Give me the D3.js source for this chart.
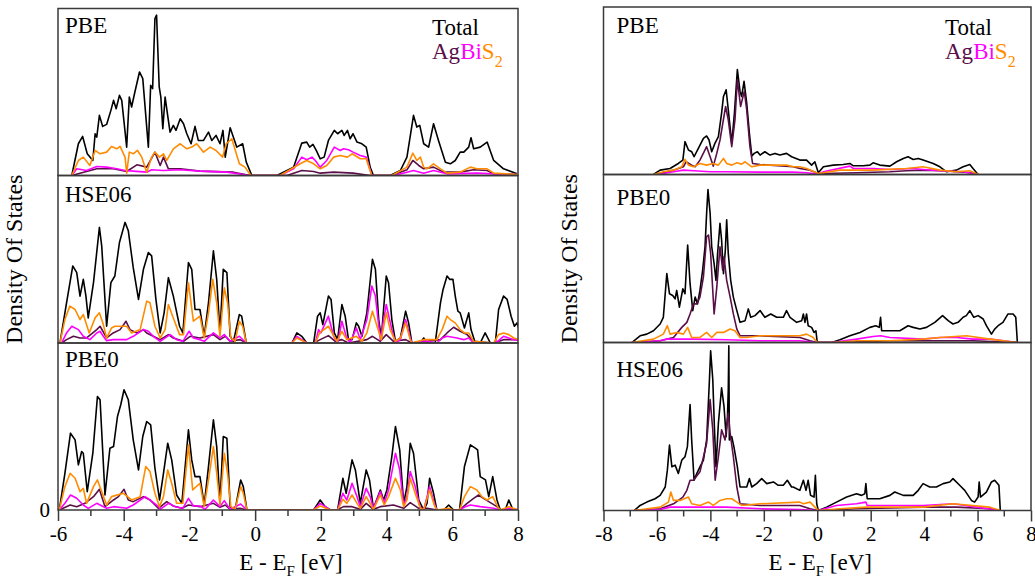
<!DOCTYPE html>
<html><head><meta charset="utf-8">
<script src="https://cdn.jsdelivr.net/npm/d3@7"></script>
<style>body{margin:0;background:#fff}svg{display:block}text{font-family:"Liberation Serif","Times New Roman",serif}</style>
</head><body><svg id="c" width="1035" height="577"></svg>
<script>
// ---------- data: [energy (eV), DOS (arb. units, % of panel height)] ----------
const lPBE_tot=[[-5.58,0],[-5.38,19],[-5.25,23.4],[-5.11,13],[-4.94,9],[-4.87,25],[-4.82,23],[-4.74,36],[-4.64,29.4],[-4.52,30.6],[-4.39,39],[-4.31,45],[-4.23,40],[-4.13,48],[-4.06,45],[-3.99,32],[-3.91,17],[-3.83,47],[-3.76,41],[-3.66,50],[-3.52,62],[-3.42,58],[-3.25,17],[-3.18,54],[-3.12,52],[-3.05,94],[-3.0,96],[-2.92,53],[-2.87,47],[-2.81,28],[-2.74,47],[-2.67,37],[-2.59,26],[-2.49,30],[-2.41,27],[-2.28,34],[-2.18,31],[-2.08,25],[-1.95,19],[-1.83,29.4],[-1.73,21],[-1.57,21],[-1.42,26],[-1.32,21],[-1.19,24],[-1.07,19],[-0.98,27],[-0.91,11],[-0.76,28.6],[-0.56,17],[-0.38,19],[-0.27,8],[-0.1,0],[0.66,0],[1.17,5],[1.42,19.4],[1.57,20],[1.66,17],[1.76,18.6],[1.86,15],[1.98,10],[2.1,11],[2.23,21],[2.41,27],[2.51,25],[2.64,27],[2.71,24],[2.81,27],[2.89,22],[2.98,25],[3.1,20],[3.25,19],[3.38,17],[3.5,5],[3.6,0],[4.11,0],[4.42,3],[4.62,11],[4.82,36],[4.92,29],[5.01,30],[5.13,19],[5.28,17],[5.43,31],[5.58,21],[5.79,8],[5.94,7],[6.09,9],[6.24,14],[6.35,14],[6.5,17],[6.57,22.6],[6.65,16],[6.85,17],[7.06,20],[7.26,9],[7.56,4],[7.97,1]];
const lPBE_s=[[-5.58,0],[-5.38,9],[-5.23,11],[-5.03,6],[-4.87,15],[-4.72,13],[-4.52,14],[-4.37,17.4],[-4.21,16],[-4.11,17.4],[-3.96,11],[-3.91,1.4],[-3.83,14],[-3.71,13],[-3.58,15],[-3.45,11],[-3.3,2],[-3.15,11],[-3.05,14],[-2.91,11],[-2.79,13],[-2.69,9],[-2.49,16],[-2.28,19],[-2.08,16],[-1.93,17],[-1.78,19],[-1.57,14],[-1.37,17],[-1.19,15],[-0.99,11],[-0.88,19],[-0.71,22],[-0.48,7],[-0.31,5],[-0.13,0],[0.76,0],[1.37,7],[1.57,9],[1.78,7],[1.98,4],[2.18,6],[2.39,11],[2.59,12],[2.81,11],[2.95,13],[3.2,10],[3.38,10],[3.55,0],[4.16,0],[4.62,5],[4.8,13.4],[4.92,9],[5.03,11],[5.13,5],[5.23,4],[5.43,7],[5.64,4],[5.84,1.4],[6.24,2],[6.55,5],[6.75,4],[7.06,4],[7.26,1.4],[7.97,0.6]];
const lPBE_bi=[[-5.58,0],[-5.43,4],[-5.13,3],[-4.82,5.4],[-4.52,5],[-4.21,4],[-3.96,3],[-3.71,2.6],[-3.3,2],[-3.15,3.4],[-2.79,3],[-2.28,3.4],[-1.68,2.6],[-0.86,2],[-0.15,0],[0.76,0],[1.17,4],[1.42,11],[1.57,9.4],[1.73,11],[1.83,9],[1.98,5],[2.18,9],[2.41,17],[2.59,15],[2.69,16],[2.84,15.4],[2.98,14],[3.2,12],[3.38,11],[3.55,0],[4.21,0],[4.62,2],[4.82,3],[5.13,1.4],[5.43,3],[5.84,1],[6.75,1.4],[7.26,1],[7.97,0.6]];
const lPBE_ag=[[-5.58,0],[-5.33,1.4],[-4.82,4],[-4.31,4],[-3.91,2.4],[-3.6,6.4],[-3.3,5],[-3.05,14],[-2.89,6],[-2.79,11],[-2.64,4],[-2.28,4],[-1.68,2.6],[-0.66,2],[-0.15,0],[0.97,0],[1.42,3],[1.78,2.4],[1.98,1.4],[2.39,2],[2.98,1.4],[3.5,0],[4.16,0],[4.62,3.4],[4.8,9],[4.98,6],[5.13,4],[5.43,5],[5.74,2],[6.24,2],[6.65,3.4],[7.06,3],[7.26,1],[7.97,0.6]];

const lHSE_tot=[[-5.94,0],[-5.74,24],[-5.55,46],[-5.43,42],[-5.33,28],[-5.23,38],[-5.15,28],[-5.08,15],[-4.92,36],[-4.74,69],[-4.67,58],[-4.52,10],[-4.39,36],[-4.27,40],[-4.13,60],[-3.96,72],[-3.86,67],[-3.71,45],[-3.55,26],[-3.4,44],[-3.25,54],[-3.15,52],[-3.02,26],[-2.89,6],[-2.77,18],[-2.64,39],[-2.49,28],[-2.3,10],[-2.2,6],[-2.03,48],[-1.93,44],[-1.83,20],[-1.68,20],[-1.55,4],[-1.42,24],[-1.27,55],[-1.17,38],[-1.07,6],[-0.97,44],[-0.86,42],[-0.76,4],[-0.66,1],[-0.48,17],[-0.41,16],[-0.27,0],[1.12,0],[1.27,6],[1.42,4],[1.57,0],[1.78,0],[1.9,16],[1.98,18],[2.06,11],[2.23,28],[2.31,26],[2.41,6],[2.51,2],[2.64,23],[2.74,16],[2.84,2],[2.95,2],[3.08,12],[3.15,10],[3.25,4],[3.4,18],[3.57,50],[3.66,44],[3.76,14],[3.84,3],[3.99,40],[4.06,36],[4.16,14],[4.27,1],[4.42,3],[4.58,19],[4.67,12],[4.77,0],[5.03,0],[5.13,3],[5.23,0],[5.48,0],[5.64,24],[5.72,32],[5.84,40],[5.92,38],[6.02,38],[6.09,28],[6.17,19],[6.24,18],[6.37,9],[6.5,18],[6.57,8],[6.7,0],[6.85,0],[7.0,6],[7.16,0],[7.31,0],[7.41,20],[7.56,28],[7.67,26],[7.79,16],[7.89,10],[7.97,12],[8.05,7]];
const lHSE_s=[[-5.94,0],[-5.79,14],[-5.64,22],[-5.48,20],[-5.33,14],[-5.23,17],[-5.05,6],[-4.87,15],[-4.74,18],[-4.62,11],[-4.52,3],[-4.37,9],[-4.27,10],[-3.91,10],[-3.76,6],[-3.5,8],[-3.3,25],[-3.2,24],[-3.05,10],[-2.89,3],[-2.74,8],[-2.64,23],[-2.51,16],[-2.3,5],[-2.18,5],[-2.03,36],[-1.88,13],[-1.68,16],[-1.55,3],[-1.42,18],[-1.29,38],[-1.17,24],[-1.07,4],[-0.94,33],[-0.84,24],[-0.74,3],[-0.61,1],[-0.48,13],[-0.38,10],[-0.27,0],[1.12,0],[1.27,3],[1.57,0],[1.83,0],[1.96,6],[2.23,10],[2.34,6],[2.49,1],[2.64,7],[2.79,2],[3.08,4],[3.25,1],[3.4,6],[3.57,19],[3.71,10],[3.84,2],[3.99,18],[4.11,8],[4.27,1],[4.42,3],[4.58,12],[4.72,2],[4.77,0],[5.13,2],[5.53,2],[5.69,8],[5.84,16],[5.94,14],[6.09,12],[6.24,8],[6.37,6],[6.5,6],[6.65,1],[7.26,0],[7.41,5],[7.56,6],[7.72,5],[7.87,3],[8.02,2]];
const lHSE_bi=[[-5.89,0],[-5.74,6],[-5.58,10],[-5.38,8],[-5.23,4],[-5.03,2],[-4.82,6],[-4.72,7],[-4.62,4],[-4.52,1.4],[-4.32,2],[-4.11,2],[-3.91,2],[-3.71,4],[-3.4,8],[-3.25,7],[-3.1,4],[-2.89,1],[-2.59,5],[-2.39,2],[-2.2,1],[-2.01,7],[-1.88,3],[-1.68,2],[-1.55,1],[-1.27,6],[-1.07,3],[-0.94,5],[-0.76,1],[-0.48,4],[-0.27,0],[1.12,0],[1.27,4],[1.57,0],[1.83,0],[1.93,8],[2.0,6],[2.23,16],[2.39,4],[2.51,0],[2.64,13],[2.77,4],[2.89,0],[3.08,9],[3.2,2],[3.4,14],[3.55,34],[3.66,28],[3.81,2],[3.99,23],[4.16,8],[4.27,0],[4.42,2],[4.58,14],[4.72,3],[4.77,0],[5.13,1.4],[5.53,0],[5.69,3],[5.84,4],[6.14,3],[6.35,2],[6.5,3],[6.65,0],[7.26,0],[7.41,1.4],[7.56,4],[7.87,2],[8.02,1.4]];
const lHSE_ag=[[-5.89,0],[-5.74,2],[-5.53,4],[-5.33,3],[-5.13,3],[-4.82,8],[-4.72,10],[-4.52,3],[-4.32,6],[-4.11,8],[-3.93,13],[-3.81,8],[-3.6,6],[-3.4,8],[-3.3,6],[-3.1,4],[-2.89,2],[-2.64,5],[-2.49,3],[-2.18,1],[-1.98,4],[-1.68,3],[-1.27,5],[-1.07,2],[-0.91,4],[-0.76,1],[-0.46,2],[-0.27,0],[1.78,0],[1.98,2],[2.23,4.4],[2.44,1],[2.64,2],[2.84,0],[3.4,2],[3.57,4],[3.81,1],[3.99,5],[4.21,1],[4.58,2],[4.77,0],[5.64,2],[5.84,6],[6.04,9.4],[6.24,7],[6.45,5],[6.65,1],[7.26,0],[7.56,2],[7.87,2],[8.02,2]];

const lPBE0_tot=[[-5.96,0],[-5.79,22],[-5.62,46],[-5.48,42],[-5.38,27],[-5.28,35],[-5.23,34],[-5.11,11],[-4.94,34],[-4.8,68],[-4.72,66],[-4.57,9],[-4.42,37],[-4.31,38],[-4.19,56],[-4.09,63],[-3.99,72],[-3.86,66],[-3.71,42],[-3.55,24],[-3.42,44],[-3.3,53],[-3.18,51],[-3.05,25],[-2.91,6],[-2.79,22],[-2.66,40],[-2.54,30],[-2.39,9],[-2.23,4],[-2.03,48],[-1.93,30],[-1.83,20],[-1.68,20],[-1.55,3],[-1.42,26],[-1.27,54],[-1.17,38],[-1.07,4],[-0.97,44],[-0.86,43],[-0.76,2],[-0.61,0],[-0.44,18],[-0.36,14],[-0.25,0],[1.78,0],[1.98,6],[2.13,2],[2.29,0],[2.51,0],[2.67,19],[2.77,10],[2.95,30],[3.05,24],[3.2,4],[3.38,24],[3.48,18],[3.6,1],[3.81,12],[3.91,6],[4.01,12],[4.16,32],[4.27,50],[4.4,36],[4.52,4],[4.62,14],[4.72,40],[4.82,34],[4.98,6],[5.13,0],[5.23,4],[5.31,19],[5.43,10],[5.53,0],[5.74,0],[5.89,3],[6.04,0],[6.22,0],[6.37,26],[6.55,39],[6.7,37],[6.77,36],[6.85,20],[7.01,18],[7.11,8],[7.23,20],[7.36,6],[7.46,0],[7.61,0],[7.72,6],[7.85,0],[8.02,0]];
const lPBE0_s=[[-5.96,0],[-5.79,14],[-5.63,22],[-5.48,19],[-5.33,11],[-5.23,13],[-5.13,4],[-4.92,14],[-4.8,18],[-4.67,11],[-4.52,3],[-4.37,8],[-4.01,10],[-3.76,6],[-3.5,8],[-3.33,26],[-3.2,23],[-3.05,10],[-2.91,2],[-2.79,8],[-2.66,24],[-2.54,16],[-2.39,4],[-2.2,4],[-2.03,39],[-1.9,12],[-1.68,16],[-1.55,2],[-1.42,18],[-1.27,38],[-1.17,22],[-1.07,3],[-0.94,34],[-0.84,22],[-0.74,2],[-0.61,0.4],[-0.44,14],[-0.36,10],[-0.25,0],[1.78,0],[1.98,2.4],[2.29,0],[2.51,0],[2.67,6.4],[2.79,4],[2.95,9],[3.1,4],[3.2,1],[3.38,8],[3.5,4],[3.6,0.4],[3.81,9],[3.93,3],[4.06,8],[4.27,19],[4.42,12],[4.52,2],[4.62,6],[4.72,19],[4.87,10],[5.03,1],[5.13,0],[5.31,12],[5.45,3],[5.53,0],[5.89,1],[6.04,0],[6.22,0],[6.37,8],[6.55,14],[6.75,12],[6.9,8],[7.06,6],[7.23,8],[7.38,2],[7.46,0],[7.72,2],[8.02,0]];
const lPBE0_bi=[[-5.96,0],[-5.79,4],[-5.62,9],[-5.43,7],[-5.23,3],[-5.08,1],[-4.82,4],[-4.72,3],[-4.52,1],[-4.31,2],[-3.91,1],[-3.71,3],[-3.35,8],[-3.2,6],[-2.94,2],[-2.89,0.4],[-2.64,4],[-2.44,2],[-2.2,1],[-2.03,7],[-1.88,2.4],[-1.68,2.4],[-1.52,0.4],[-1.27,6],[-1.07,2],[-0.94,5.6],[-0.76,0.4],[-0.44,3.6],[-0.25,0],[1.78,0],[1.98,4],[2.29,0],[2.51,0],[2.67,10],[2.79,6],[2.95,16],[3.1,8],[3.2,2],[3.38,13],[3.5,8],[3.6,1],[3.81,11],[3.93,4],[4.06,12],[4.27,34],[4.4,24],[4.52,3],[4.62,8],[4.72,23],[4.87,14],[5.03,1],[5.13,0],[5.31,14],[5.45,4],[5.53,0],[6.22,0],[6.4,2],[6.55,3],[6.85,2],[7.26,1],[7.46,0],[7.72,1],[8.02,0]];
const lPBE0_ag=[[-5.96,0],[-5.63,3],[-5.43,2],[-5.18,4],[-4.92,8],[-4.74,12.4],[-4.57,2],[-4.31,6],[-4.16,8],[-3.99,12.4],[-3.86,6],[-3.71,5],[-3.4,8],[-3.2,6],[-2.94,1],[-2.69,5],[-2.49,2.4],[-2.23,1],[-2.03,3],[-1.68,2],[-1.27,4],[-1.07,1.6],[-0.91,3],[-0.76,0.4],[-0.46,1],[-0.25,0],[1.78,0],[2.49,0],[2.69,2],[2.95,2],[3.2,0.4],[3.38,4],[3.6,0.4],[3.81,2],[4.21,3],[4.52,1],[4.72,4.4],[4.98,1],[5.23,1],[5.53,0],[6.22,0],[6.45,4],[6.65,7],[6.8,9],[6.95,7],[7.16,4.4],[7.36,2],[7.46,0],[8.02,0]];

const rPBE_tot=[[-6.13,0],[-5.88,2.6],[-5.51,3.6],[-5.2,6.6],[-5.03,8.6],[-4.95,19.6],[-4.82,14.6],[-4.7,13.6],[-4.61,10.6],[-4.45,15.6],[-4.26,21.6],[-4.14,23],[-4.05,20.6],[-3.95,13.6],[-3.83,18.6],[-3.7,22.6],[-3.58,36.6],[-3.51,46.6],[-3.41,50.6],[-3.33,38.6],[-3.2,18.6],[-3.1,36.6],[-2.99,62.6],[-2.89,49.6],[-2.83,46.6],[-2.74,55.6],[-2.64,42.6],[-2.54,24.6],[-2.45,11],[-2.36,12.6],[-2.24,13.6],[-2.14,11.6],[-1.96,13.6],[-1.77,11.6],[-1.58,12.6],[-1.4,11.6],[-1.15,12.6],[-0.96,10.6],[-0.65,8.6],[-0.4,8.6],[-0.21,5.6],[-0.09,7.6],[0.04,1],[0.23,4.6],[0.6,5.6],[0.97,6],[1.22,6.6],[1.35,5.2],[1.72,5.2],[1.97,5.6],[2.09,7],[2.34,5.6],[2.72,5],[2.97,7.6],[3.22,9.6],[3.4,10.6],[3.59,9],[3.78,9.6],[3.96,8.6],[4.34,6.6],[4.59,4.6],[4.84,1.6],[5.21,2.6],[5.46,4.6],[5.71,6],[5.83,3.6],[6.02,0]];
const rPBE_s=[[-6.13,0],[-5.76,1.6],[-5.38,2.6],[-5.07,4.6],[-4.95,9],[-4.82,5.6],[-4.63,4.6],[-4.39,6.6],[-4.14,5.6],[-3.89,6.6],[-3.7,5.6],[-3.51,9.6],[-3.39,6.6],[-3.2,5.6],[-3.01,7],[-2.83,6.2],[-2.7,7.6],[-2.45,4.6],[-2.14,5.6],[-1.15,5.6],[-0.9,4.6],[-0.65,4.6],[-0.4,3.6],[0.04,0.6],[0.85,2.6],[2.09,2.6],[3.34,3.6],[3.96,4.6],[4.59,2.6],[5.21,1.6],[5.71,2.2],[6.02,0]];
const rPBE_bi=[[-6.0,0],[-5.38,1.6],[-5.01,2.6],[-4.63,2.2],[-4.01,1.6],[-3.39,1.6],[-2.14,1.4],[-0.9,1.4],[-0.4,1],[0.04,0.2],[0.23,1.6],[1.22,5],[1.35,3.6],[2.09,3.6],[2.72,3],[3.59,3.6],[3.96,3],[4.59,2.2],[5.46,1.6],[6.02,0]];
const rPBE_ag=[[-6.0,0],[-5.38,2.6],[-5.01,4.6],[-4.91,7.6],[-4.7,5.6],[-4.57,4.6],[-4.39,8.6],[-4.14,16.6],[-4.01,10.6],[-3.89,5],[-3.76,12.6],[-3.64,20.6],[-3.43,40.6],[-3.33,32.6],[-3.2,16.6],[-3.08,32.6],[-2.99,56.6],[-2.87,40.6],[-2.73,49.6],[-2.64,38.6],[-2.52,16.6],[-2.42,6.6],[-2.14,6],[-0.9,4.6],[-0.65,3.6],[-0.27,2.6],[0.04,0.6],[0.23,0.6],[1.47,1],[2.72,1.6],[3.34,2.2],[3.96,2.6],[4.59,2.2],[5.83,1],[6.02,0]];

const rPBE0_tot=[[-6.94,0],[-6.63,4],[-6.38,5],[-6.13,7],[-5.88,11],[-5.76,15],[-5.63,41],[-5.53,29],[-5.41,28],[-5.32,26],[-5.26,31],[-5.16,21],[-5.03,32],[-4.95,29],[-4.85,58],[-4.76,35],[-4.66,19],[-4.57,27],[-4.48,23],[-4.39,31],[-4.29,43],[-4.2,57],[-4.14,77],[-4.09,91],[-4.01,77],[-3.95,57],[-3.86,47],[-3.79,37],[-3.73,53],[-3.64,71],[-3.58,61],[-3.51,41],[-3.44,55],[-3.39,73],[-3.33,53],[-3.24,37],[-3.14,27],[-3.01,19],[-2.89,12],[-2.7,13],[-2.58,20],[-2.49,15],[-2.33,16],[-2.14,19],[-1.96,15],[-1.74,17],[-1.52,15],[-1.27,15],[-1.15,19],[-1.02,15],[-0.77,12],[-0.58,13],[-0.52,17],[-0.46,12],[-0.4,17],[-0.34,10],[-0.21,9],[-0.12,6],[-0.05,7],[0.0,0],[0.54,0],[0.85,1.6],[1.22,4],[1.6,6],[1.97,9],[2.19,10],[2.32,9],[2.37,15],[2.41,7],[2.72,7],[3.09,7],[3.4,10],[3.59,9],[3.84,8],[4.09,9],[4.4,12],[4.69,16],[4.9,13],[5.08,11],[5.27,12],[5.46,15],[5.58,16],[5.71,19],[5.86,15],[6.02,16],[6.21,14],[6.33,10],[6.52,5],[6.64,8],[6.77,10],[6.95,12],[7.14,17],[7.33,17],[7.43,15],[7.49,0]];
const rPBE0_s=[[-6.94,0],[-6.13,2],[-5.76,5],[-5.61,10],[-5.51,5],[-5.26,6],[-5.01,5],[-4.85,9],[-4.7,3],[-4.39,3],[-4.14,6],[-3.95,3],[-3.76,6],[-3.51,6],[-3.26,8],[-3.08,7],[-2.89,3],[-2.64,3],[-2.14,4],[-0.65,4],[-0.4,5],[-0.15,3],[0.0,0],[0.54,0],[1.47,1],[2.72,1],[3.96,2],[4.59,3],[5.58,4],[6.46,2],[7.49,0]];
const rPBE0_bi=[[-6.94,0],[-5.88,1],[-5.63,2],[-4.63,2],[-3.39,1.6],[-2.14,1],[-0.65,1],[0.0,0],[0.54,0],[1.47,2],[2.09,3.6],[2.37,4],[2.72,3],[3.96,2],[4.59,3],[5.21,3],[5.83,2],[6.46,2],[7.49,0]];
const rPBE0_ag=[[-6.94,0],[-5.88,1],[-5.38,3],[-5.07,9],[-4.88,12],[-4.76,17],[-4.63,23],[-4.51,23],[-4.39,27],[-4.26,39],[-4.14,63],[-4.07,64],[-3.99,53],[-3.86,17],[-3.76,33],[-3.64,57],[-3.54,43],[-3.49,51],[-3.39,37],[-3.26,27],[-3.14,17],[-3.01,8],[-2.89,4],[-2.14,4],[-0.65,3],[-0.27,1],[0.0,0],[0.85,0],[2.72,1],[4.59,1],[5.83,1],[7.49,0]];

const rHSE_tot=[[-6.85,0],[-6.63,3],[-6.38,5],[-6.07,7],[-5.88,9],[-5.69,14],[-5.61,24],[-5.53,39],[-5.44,26],[-5.32,27],[-5.2,22],[-5.07,30],[-4.95,32],[-4.86,38],[-4.76,63],[-4.7,42],[-4.61,18],[-4.51,22],[-4.39,26],[-4.26,30],[-4.14,42],[-4.04,76],[-3.99,95],[-3.91,78],[-3.85,50],[-3.79,26],[-3.7,52],[-3.58,73],[-3.49,62],[-3.41,44],[-3.36,56],[-3.33,72],[-3.31,98],[-3.29,42],[-3.2,44],[-3.12,38],[-2.99,26],[-2.89,14],[-2.64,14],[-2.54,19],[-2.45,14],[-2.27,16],[-2.08,19],[-1.89,16],[-1.64,17],[-1.46,15],[-1.27,15],[-1.12,18],[-0.96,14],[-0.9,14],[-0.65,12],[-0.52,18],[-0.42,12],[-0.34,18],[-0.25,9],[-0.12,8],[-0.07,21],[-0.02,4],[0.04,0],[0.35,2],[0.72,5],[1.1,8],[1.47,10],[1.66,9],[1.78,10],[1.82,16],[1.87,7],[2.34,7],[2.72,9],[2.9,11],[3.22,9],[3.59,9],[3.78,12],[3.96,16],[4.21,14],[4.46,14],[4.71,16],[4.96,17],[5.08,19],[5.33,15],[5.52,12],[5.77,6],[5.89,5],[6.02,8],[6.06,17],[6.11,8],[6.33,11],[6.52,17],[6.64,18],[6.8,15],[6.85,0]];
const rHSE_s=[[-6.85,0],[-5.88,2],[-5.57,5],[-5.48,11],[-5.38,6],[-5.13,6],[-4.82,8],[-4.7,4],[-4.39,3],[-4.07,5],[-3.89,3],[-3.64,6],[-3.39,7],[-3.2,7],[-3.01,5],[-2.83,3],[-2.14,4],[-0.65,5],[-0.52,4],[-0.27,5],[-0.02,1],[0.04,0],[0.85,1],[1.84,2],[3.96,2],[5.08,4],[6.46,2],[6.85,0]];
const rHSE_bi=[[-6.85,0],[-5.88,0.6],[-5.51,2],[-4.63,2],[-3.39,2],[-2.14,1],[-0.65,0.6],[0.04,0],[0.72,3],[1.47,4],[1.82,5],[1.87,3],[2.72,3],[3.96,3],[5.08,4],[5.96,2],[6.85,0]];
const rHSE_ag=[[-6.85,0],[-5.88,1],[-5.38,4],[-5.03,8],[-4.88,12],[-4.76,18],[-4.63,18],[-4.39,23],[-4.14,40],[-4.01,66],[-3.91,48],[-3.82,18],[-3.7,32],[-3.58,48],[-3.45,42],[-3.33,58],[-3.26,46],[-3.14,32],[-3.01,14],[-2.89,4],[-2.14,3],[-0.65,3],[-0.27,1],[0.04,0],[1.47,1],[3.96,2],[5.21,2],[6.46,1],[6.85,0]];

// axis / labels
const leftTicks=[-6,-4,-2,0,2,4,6,8];
const rightTicks=[-8,-6,-4,-2,0,2,4,6,8];
const leftMethods=["PBE","HSE06","PBE0"];
const rightMethods=["PBE","PBE0","HSE06"];
const speciesNames=["Total","Ag","Bi","S"];
const colors={Total:"#000000",Ag:"#5a0f48",Bi:"#ff00ff",S:"#ff8c00"};

// ---------- layout ----------
const panels=[
 {x0:58,x1:518,dom:[-6,8],ticks:leftTicks,legendX:432,zeroLabel:true,
  subs:[{label:leftMethods[0],top:8.5,bottom:175.5,ly:33,data:[lPBE_tot,lPBE_ag,lPBE_bi,lPBE_s]},
        {label:leftMethods[1],top:175.5,bottom:343,ly:201.5,data:[lHSE_tot,lHSE_ag,lHSE_bi,lHSE_s]},
        {label:leftMethods[2],top:343,bottom:510,ly:366.5,data:[lPBE0_tot,lPBE0_ag,lPBE0_bi,lPBE0_s]}]},
 {x0:603.5,x1:1031,dom:[-8,8],ticks:rightTicks,legendX:945,zeroLabel:false,
  subs:[{label:rightMethods[0],top:7,bottom:174.5,ly:33,data:[rPBE_tot,rPBE_ag,rPBE_bi,rPBE_s]},
        {label:rightMethods[1],top:174.5,bottom:342.5,ly:205,data:[rPBE0_tot,rPBE0_ag,rPBE0_bi,rPBE0_s]},
        {label:rightMethods[2],top:342.5,bottom:510.5,ly:376.5,data:[rHSE_tot,rHSE_ag,rHSE_bi,rHSE_s]}]}
];

const svg=d3.select("#c");
const defs=svg.append("defs");
const FONT='"Liberation Serif","Times New Roman",serif';
const frameColor="#3a3a3a";

panels.forEach((p,pi)=>{
  const x=d3.scaleLinear().domain(p.dom).range([p.x0,p.x1]);
  p.subs.forEach((s,si)=>{
    const y=d3.scaleLinear().domain([0,100]).range([s.bottom,s.top]);
    const cid="clip"+pi+"_"+si;
    defs.append("clipPath").attr("id",cid).append("rect")
      .attr("x",p.x0).attr("y",s.top).attr("width",p.x1-p.x0).attr("height",s.bottom-s.top);
    const g=svg.append("g").attr("clip-path","url(#"+cid+")");
    const line=d3.line().x(d=>x(d[0])).y(d=>y(d[1]));
    s.data.forEach((arr,k)=>{
      g.append("path").datum(arr).attr("d",line).attr("fill","none")
       .attr("stroke",colors[speciesNames[k]]).attr("stroke-width",1.6).attr("stroke-linejoin","round");
    });
    // re-draw S on top (as in reference)
    svg.append("rect").attr("x",p.x0).attr("y",s.top).attr("width",p.x1-p.x0).attr("height",s.bottom-s.top)
      .attr("fill","none").attr("stroke",frameColor).attr("stroke-width",1.5);
    svg.append("text").attr("x",p.x0+(pi===0?7:13)).attr("y",s.ly).attr("font-size",23).attr("fill","#000").text(s.label);
  });
  // bottom axis
  const bottom=p.subs[2].bottom;
  const minor=d3.range(p.dom[0]+1,p.dom[1],2);
  const ax=svg.append("g").attr("transform","translate(0,"+bottom+")");
  ax.call(d3.axisBottom(x).tickValues(p.ticks).tickSize(11).tickFormat(d=>d===0?"0":String(d).replace("\u2212","-")))
  ax.select(".domain").remove();
  ax.selectAll(".tick line").attr("stroke",frameColor).attr("stroke-width",1.5);
  ax.selectAll(".tick text").attr("font-size",21).attr("font-family",FONT).attr("fill","#000").attr("dy","0.95em").attr("y",11);
  svg.append("g").selectAll("line").data(minor).join("line")
    .attr("x1",d=>x(d)).attr("x2",d=>x(d)).attr("y1",bottom).attr("y2",bottom+6)
    .attr("stroke",frameColor).attr("stroke-width",1.5);
  // x label
  const xl=svg.append("text").attr("x",(p.x0+p.x1)/2+3).attr("y",570).attr("text-anchor","middle").attr("font-size",23);
  xl.append("tspan").text("E - E");
  xl.append("tspan").attr("font-size",15).attr("dy",6).text("F");
  xl.append("tspan").attr("dy",-6).text(" [eV]");
  // y label
  svg.append("text").attr("transform","translate("+(p.x0-27-(pi===0?9:0))+","+((p.subs[0].top+bottom)/2)+") rotate(-90)")
    .attr("text-anchor","middle").attr("font-size",24).text("Density Of States");
  if(p.zeroLabel){
    svg.append("text").attr("x",p.x0-8).attr("y",bottom+7).attr("text-anchor","end").attr("font-size",21).text("0");
  }
  // legend
  svg.append("text").attr("x",p.legendX).attr("y",35).attr("font-size",23).attr("fill",colors.Total).text("Total");
  const lg=svg.append("text").attr("x",p.legendX).attr("y",59).attr("font-size",23);
  lg.append("tspan").attr("fill",colors.Ag).text("Ag");
  lg.append("tspan").attr("fill",colors.Bi).text("Bi");
  lg.append("tspan").attr("fill",colors.S).text("S");
  lg.append("tspan").attr("fill",colors.S).attr("font-size",16).attr("dy",8).text("2");
});
</script></body></html>
